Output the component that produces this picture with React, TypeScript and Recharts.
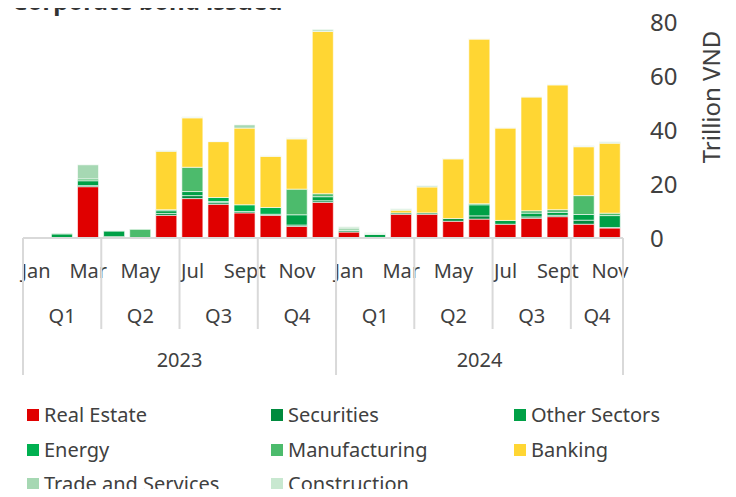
import React from "react";
import { BarChart, Bar, XAxis, YAxis } from "recharts";

const MONTHS = [
  "Jan", "Feb", "Mar", "Apr", "May", "Jun", "Jul", "Aug", "Sept", "Oct", "Nov", "Dec",
  "Jan", "Feb", "Mar", "Apr", "May", "Jun", "Jul", "Aug", "Sept", "Oct", "Nov",
];
const QUARTERS = [
  "Q1", "Q1", "Q1", "Q2", "Q2", "Q2", "Q3", "Q3", "Q3", "Q4", "Q4", "Q4",
  "Q1", "Q1", "Q1", "Q2", "Q2", "Q2", "Q3", "Q3", "Q3", "Q4", "Q4",
];
const YEARS = [
  "2023", "2023", "2023", "2023", "2023", "2023", "2023", "2023", "2023", "2023", "2023", "2023",
  "2024", "2024", "2024", "2024", "2024", "2024", "2024", "2024", "2024", "2024", "2024",
];

// trillion VND, Jan 2023 .. Nov 2024
const REAL_ESTATE = [0, 0, 19.0, 0.5, 0, 8.4, 14.6, 12.5, 9.3, 8.4, 4.3, 13.2, 2.2, 0.2, 8.8, 8.8, 6.2, 7.0, 5.1, 7.3, 7.9, 5.1, 3.7];
const SECURITIES = [0, 0, 0.4, 0, 0, 0.7, 1.1, 0.6, 0.5, 0.4, 0.5, 0.6, 0.5, 0, 0.5, 0.5, 1.0, 1.2, 0, 0.5, 0.5, 1.5, 0.2];
const OTHER_SECTORS = [0, 1.5, 1.8, 2.1, 0, 1.0, 1.5, 0.4, 0, 0, 3.8, 1.5, 0, 1.1, 0, 0, 0, 4.1, 1.4, 1.4, 1.1, 2.1, 4.4];
const ENERGY = [0, 0, 0, 0, 0, 0.4, 0, 1.5, 2.5, 2.5, 0, 0, 0, 0, 0, 0, 0, 0.4, 0, 0, 0, 0, 0];
const MANUFACTURING = [0, 0, 0.7, 0, 3.2, 0, 9.0, 0, 0, 0, 9.5, 1.1, 0, 0, 0, 0, 0, 0, 0, 0.9, 1.0, 7.0, 0.9];
const BANKING = [0, 0, 0, 0, 0, 21.6, 18.3, 20.7, 28.4, 19.0, 18.6, 60.1, 0, 0, 1.0, 9.6, 22.1, 61.0, 34.2, 42.1, 46.2, 18.1, 25.9];
const TRADE_SERVICES = [0, 0.3, 5.2, 0.1, 0, 0.3, 0.2, 0.1, 1.2, 0.1, 0.2, 0.6, 1.0, 0.4, 0.4, 0.4, 0.2, 0.1, 0.2, 0.2, 0.2, 0.2, 0.4];
const CONSTRUCTION = [0, 0, 0, 0, 0, 0.2, 0.2, 0.1, 0, 0.1, 0.2, 0.3, 0.5, 0.3, 0.2, 0.2, 0.1, 0.1, 0.1, 0.1, 0.1, 0.2, 0.2];

const Y_TICKS = [0, 20, 40, 60, 80];

const SERIES = [
  { key: "realEstate", name: "Real Estate", color: "#E00000", values: REAL_ESTATE },
  { key: "securities", name: "Securities", color: "#008A3E", values: SECURITIES },
  { key: "otherSectors", name: "Other Sectors", color: "#00A046", values: OTHER_SECTORS },
  { key: "energy", name: "Energy", color: "#00B050", values: ENERGY },
  { key: "manufacturing", name: "Manufacturing", color: "#4CBB6C", values: MANUFACTURING },
  { key: "banking", name: "Banking", color: "#FFD633", values: BANKING },
  { key: "tradeServices", name: "Trade and Services", color: "#A6D8B3", values: TRADE_SERVICES },
  { key: "construction", name: "Construction", color: "#C8E8D0", values: CONSTRUCTION },
];

const data = MONTHS.map((m, i) => {
  const row: any = { month: m };
  SERIES.forEach((s) => (row[s.key] = s.values[i]));
  return row;
});

const FONT = "'Noto Sans', sans-serif";
const TEXT = "#404040";
const GRID = "#d9d9d9";

const MonthTick = (props: any) => {
  const { x, y, payload } = props;
  return (
    <text x={x} y={y + 40} textAnchor="middle" fontSize={20} fill={TEXT} fontFamily={FONT}>
      {payload.value}
    </text>
  );
};

// label centred on each run of equal labels, plus the separator lines
const makeGroupTick =
  (labels: string[], up: number, down: number, dy: number) => (props: any) => {
    const { x, y, index, payload } = props;
    const half = payload && payload.offset ? payload.offset : 13;
    const isStart = index === 0 || labels[index] !== labels[index - 1];
    const isLast = index === labels.length - 1;
    let n = 0;
    if (isStart) {
      while (index + n < labels.length && labels[index + n] === labels[index]) n++;
    }
    return (
      <g>
        {isStart && (
          <line x1={x - half} x2={x - half} y1={y - up} y2={y + down} stroke={GRID} strokeWidth={2} />
        )}
        {isLast && (
          <line x1={x + half} x2={x + half} y1={y - up} y2={y + down} stroke={GRID} strokeWidth={2} />
        )}
        {isStart && (
          <text x={x - half + n * half} y={y + dy} textAnchor="middle" fontSize={20} fill={TEXT} fontFamily={FONT}>
            {labels[index]}
          </text>
        )}
      </g>
    );
  };

const QuarterTick = makeGroupTick(QUARTERS, 45, 46, 40);
const YearTick = makeGroupTick(YEARS, 90, 47, 39);

const YLabel = (props: any) => {
  const { x, y } = props.viewBox;
  const cx = x + 87;
  const cy = y + 75;
  return (
    <text
      x={cx}
      y={cy}
      transform={`rotate(-90 ${cx} ${cy})`}
      textAnchor="middle"
      dominantBaseline="central"
      fontSize={24}
      fill={TEXT}
      fontFamily={FONT}
    >
      Trillion VND
    </text>
  );
};

export default function App() {
  return (
    <div style={{ position: "relative", width: 736, height: 497, margin: -8, fontFamily: FONT }}>
      <svg width={736} height={20} style={{ position: "absolute", left: 0, top: 0 }}>
        <text x={12} y={10} fontSize={24} fontWeight={700} fill="#333" fontFamily={FONT}>
          Corporate bond issued
        </text>
      </svg>
      <BarChart
        width={736}
        height={385}
        data={data}
        margin={{ top: 22, right: 13, left: 23, bottom: 7 }}
        barCategoryGap="9%"
      >
        <XAxis
          xAxisId="m"
          dataKey="month"
          height={45}
          interval={1}
          tickSize={0}
          tickMargin={0}
          tickLine={false}
          axisLine={{ stroke: GRID, strokeWidth: 2 }}
          tick={<MonthTick />}
        />
        <XAxis
          xAxisId="q"
          dataKey="month"
          height={45}
          interval={0}
          tickSize={0}
          tickMargin={0}
          tickLine={false}
          axisLine={false}
          tick={QuarterTick}
        />
        <XAxis
          xAxisId="y"
          dataKey="month"
          height={50}
          interval={0}
          tickSize={0}
          tickMargin={0}
          tickLine={false}
          axisLine={false}
          tick={YearTick}
        />
        <YAxis
          orientation="right"
          width={100}
          domain={[0, 80]}
          ticks={Y_TICKS}
          axisLine={false}
          tickLine={false}
          tickSize={0}
          tickMargin={27}
          tick={{ fontSize: 24, fill: TEXT, fontFamily: FONT, textAnchor: "start" }}
          label={<YLabel />}
        />
        {SERIES.map((s) => (
          <Bar
            key={s.key}
            xAxisId="m"
            dataKey={s.key}
            name={s.name}
            stackId="a"
            fill={s.color}
            stroke="#ffffff"
            strokeWidth={0.6}
            isAnimationActive={false}
          />
        ))}
      </BarChart>
      <div style={{ position: "absolute", left: 27, top: 404 }}>
        {SERIES.map((s, i) => (
          <div
            key={s.key}
            style={{
              position: "absolute",
              left: [0, 244, 487][i % 3],
              top: Math.floor(i / 3) * 34.5,
              display: "flex",
              alignItems: "center",
              height: 22,
              lineHeight: "22px",
              whiteSpace: "nowrap",
              fontSize: 20,
              color: TEXT,
            }}
          >
            <span style={{ width: 12, height: 12, background: s.color, marginRight: 5, display: "inline-block" }} />
            {s.name}
          </div>
        ))}
      </div>
    </div>
  );
}
